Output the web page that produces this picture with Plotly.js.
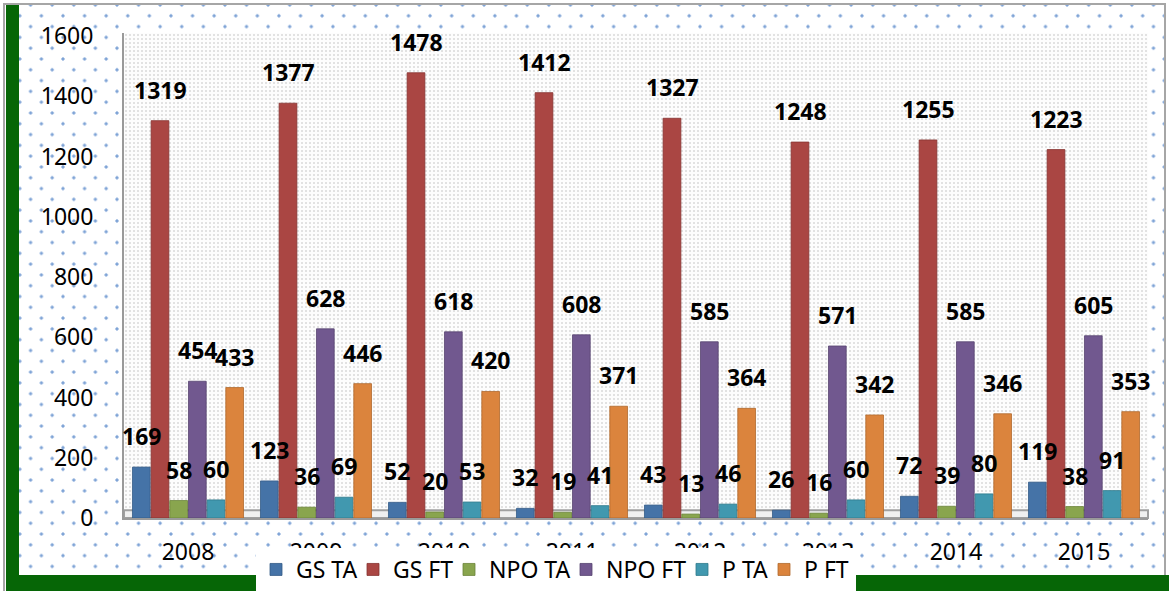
<!DOCTYPE html>
<html>
<head>
<meta charset="utf-8">
<script src="https://cdn.plot.ly/plotly-3.0.1.min.js"></script>
<style>
  html, body { margin:0; padding:0; width:1169px; height:591px; overflow:hidden; background:#fff; }
  #frame { position:absolute; left:3px; top:3px; width:1163px; height:588px; box-sizing:border-box;
    border-top:2px solid #a6a6a6; border-left:2px solid #a6a6a6; border-right:2px solid #a6a6a6;
    background-color:#fff;
    background-image: radial-gradient(circle, #7ea3d6 1.3px, rgba(255,255,255,0) 1.9px),
                      radial-gradient(circle, #7ea3d6 1.3px, rgba(255,255,255,0) 1.9px);
    background-size: 21.6px 21.6px, 21.6px 21.6px;
    background-position: 4px 0px, 14.8px 10.8px; }
  #gleft { position:absolute; left:6px; top:5px; width:13px; height:586px; background:#066606; }
  #gbottom { position:absolute; left:6px; top:575px; width:1163px; height:16px; background:#066606; }
  #pbg { position:absolute; left:124px; top:33px; width:1024px; height:485px; background-color:#fdfdfd;
    background-image: radial-gradient(circle, #e2e2e2 0.8px, rgba(255,255,255,0) 1.2px);
    background-size: 4px 4px; }
  #chart { position:absolute; left:0; top:0; width:1169px; height:591px; }
</style>
</head>
<body>
<div id="frame"></div>
<div id="pbg"></div>
<div id="gleft"></div>
<div id="gbottom"></div>
<div id="chart"></div>
<script>
const years = ['2008','2009','2010','2011','2012','2013','2014','2015'];
const seriesNames = ['GS TA','GS FT','NPO TA','NPO FT','P TA','P FT'];
const gsTA  = [169, 123, 52, 32, 43, 26, 72, 119];
const gsFT  = [1319, 1377, 1478, 1412, 1327, 1248, 1255, 1223];
const npoTA = [58, 36, 20, 19, 13, 16, 39, 38];
const npoFT = [454, 628, 618, 608, 585, 571, 585, 605];
const pTA   = [60, 69, 53, 41, 46, 60, 80, 91];
const pFT   = [433, 446, 420, 371, 364, 342, 346, 353];
const colors = ['#4573a7','#aa4643','#89a54e','#71588f','#4198af','#db843d'];
const lines  = ['#345a86','#863431','#6b843a','#574470','#2f7a8c','#b0682c'];

const allSeries = [gsTA, gsFT, npoTA, npoFT, pTA, pFT];
const FONT = 'Noto Sans, Roboto, sans-serif';
const LEGEND_SIZE = 23;
const BARGAP = 0.125;

// measure legend text so the entries sit as tightly as in the original
const cv = document.createElement('canvas').getContext('2d');
cv.font = LEGEND_SIZE + 'px "Noto Sans"';
function legendW(name, last) {
  const w = Math.round(cv.measureText(name).width);
  return last ? w + 2 : Math.max(10, w - 9);
}

const traces = allSeries.map((vals, i) => ({
  type: 'bar',
  name: seriesNames[i],
  x: years,
  y: vals,
  legendwidth: legendW(seriesNames[i], i === allSeries.length - 1),
  marker: { color: colors[i], line: { color: lines[i], width: 0.8 } },
  hoverinfo: 'skip'
}));

// value labels on top of everything, centred over each bar of the group
const groupW = 1 - BARGAP;
const slotW = groupW / allSeries.length;
const annotations = [];
allSeries.forEach((vals, i) => {
  vals.forEach((v, j) => {
    annotations.push({
      x: j - groupW / 2 + (i + 0.5) * slotW,
      y: v,
      xref: 'x', yref: 'y',
      text: '<b>' + v + '</b>',
      showarrow: false,
      xanchor: 'center', yanchor: 'bottom',
      yshift: 13,
      font: { family: FONT, size: 23, color: '#000' }
    });
  });
});

const layout = {
  width: 1169, height: 591,
  margin: { l: 124, r: 21, t: 33, b: 73 },
  paper_bgcolor: 'rgba(0,0,0,0)',
  plot_bgcolor: 'rgba(0,0,0,0)',
  barmode: 'group',
  bargap: BARGAP,
  bargroupgap: 0.05,
  showlegend: true,
  font: { family: FONT, color: '#000' },
  annotations: annotations,
  shapes: [{
    type: 'rect', xref: 'paper', yref: 'paper', x0: 0, x1: 1, y0: 0, y1: 0.016,
    line: { color: '#a0a0a0', width: 2 }, fillcolor: '#f0f0f0', layer: 'below'
  }],
  xaxis: {
    type: 'category',
    range: [-0.5, 7.5],
    showgrid: false, zeroline: false,
    showline: true, linecolor: '#9a9a9a', linewidth: 2,
    ticks: '',
    tickfont: { family: FONT, size: 23, color: '#000' },
    ticklabelstandoff: 12
  },
  yaxis: {
    range: [0, 1610],
    tickvals: [0,200,400,600,800,1000,1200,1400,1600],
    showgrid: false, zeroline: false,
    showline: true, linecolor: '#9a9a9a', linewidth: 2,
    ticks: '',
    tickfont: { family: FONT, size: 23, color: '#000' },
    ticklabelstandoff: 24
  },
  legend: {
    orientation: 'h',
    xref: 'container', yref: 'container',
    x: 0.219, xanchor: 'left',
    y: -0.02, yanchor: 'bottom',
    bgcolor: '#ffffff',
    font: { family: FONT, size: LEGEND_SIZE, color: '#000' },
    traceorder: 'normal',
    itemwidth: 30,
    tracegroupgap: 0
  }
};

Plotly.newPlot('chart', traces, layout, { displayModeBar: false, staticPlot: true });
</script>
</body>
</html>
